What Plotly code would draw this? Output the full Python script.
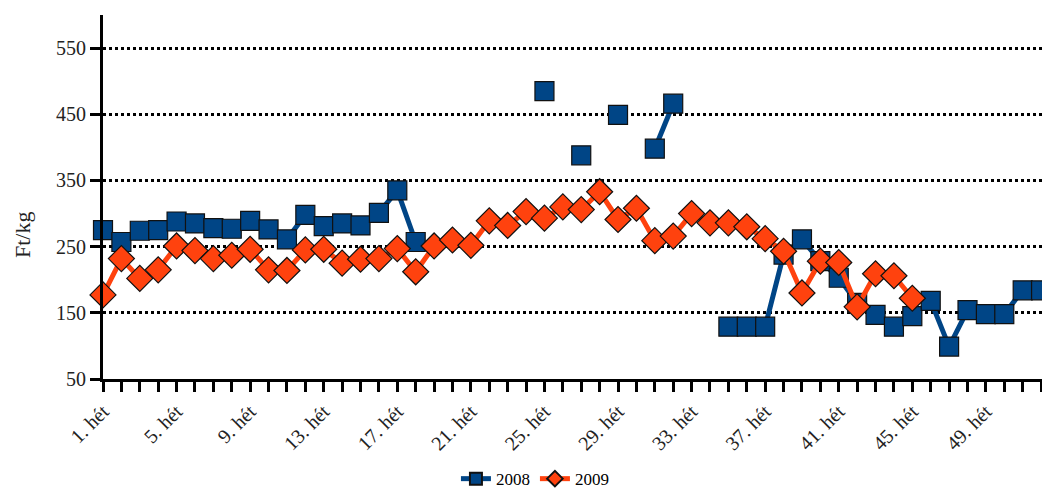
import plotly.graph_objects as go

weeks = list(range(1, 53))
week_labels = [f"{w}. hét" if (w - 1) % 4 == 0 else "" for w in weeks]

y2008 = [275, 257, 274, 275, 288, 285, 278, 277, 289, 276,
         261, 298, 281, 285, 282, 301, 335, 257, None, None,
         None, None, None, None, 485, None, 388, None, 449, None,
         398, 466, None, None, 129, 129, 129, 238, 261, 228,
         203, 165, 147, 129, 145, 168, 99, 154, 148, 148,
         184, 184]

y2009 = [177, 232, 202, 215, 251, 244, 232, 237, 246, 215,
         214, 245, 246, 225, 231, 232, 247, 212, 251, 260,
         252, 289, 282, 303, 293, 310, 306, 333, 291, 308,
         259, 266, 300, 286, 286, 280, 262, 243, 180, 228,
         226, 159, 209, 206, 172, None, None, None, None, None,
         None, None]

y_ticks = [50, 150, 250, 350, 450, 550]
y_title = "Ft/kg"

font_family = "Liberation Serif"

fig = go.Figure()
fig.add_trace(go.Scatter(
    x=weeks, y=y2008, name="2008", mode="lines+markers",
    line=dict(color="#004586", width=5),
    marker=dict(symbol="square", size=19, color="#004586",
                line=dict(color="#111111", width=1.2)),
    connectgaps=False, cliponaxis=False,
))
fig.add_trace(go.Scatter(
    x=weeks, y=y2009, name="2009", mode="lines+markers",
    line=dict(color="#FF420E", width=5),
    marker=dict(symbol="diamond", size=20, color="#FF420E",
                line=dict(color="#111111", width=1.2)),
    connectgaps=False, cliponaxis=False,
))

fig.update_layout(
    width=1042, height=493,
    margin=dict(l=103, r=0, t=15, b=114, autoexpand=False),
    paper_bgcolor="white", plot_bgcolor="white",
    font=dict(family=font_family, color="#000000", size=18),
    showlegend=True,
    legend=dict(orientation="h", x=0.46, xanchor="center", y=-0.275,
                yanchor="middle", font=dict(size=17, family=font_family),
                itemsizing="constant"),
    annotations=[dict(
        text=y_title, textangle=-90, xref="paper", yref="paper",
        x=-81 / 939, y=(379 - 235) / 364, xanchor="center", yanchor="middle",
        showarrow=False, font=dict(size=22, family=font_family, color="#222222"),
    )],
)
fig.update_xaxes(
    range=[1, 52.05], tickmode="array", tickvals=weeks, ticktext=week_labels,
    tickangle=-45, ticks="outside", ticklen=10, tickwidth=2.5, tickcolor="black",
    showline=True, linecolor="black", linewidth=3, showgrid=False, zeroline=False,
    automargin=False,
    tickfont=dict(size=20, family=font_family, color="#222222"),
)
fig.update_yaxes(
    range=[50, 600], tickmode="array", tickvals=y_ticks,
    ticks="outside", ticklen=10, tickwidth=3, tickcolor="black",
    showline=True, linecolor="black", linewidth=3,
    showgrid=True, gridcolor="black", gridwidth=2.5, griddash="dot",
    zeroline=False, automargin=False,
    tickfont=dict(size=20, family=font_family, color="#222222"),
)

fig.write_html(
    "out.html",
    config={"displayModeBar": False},
    post_script="document.body.style.margin='0';document.body.style.overflow='hidden';",
)
